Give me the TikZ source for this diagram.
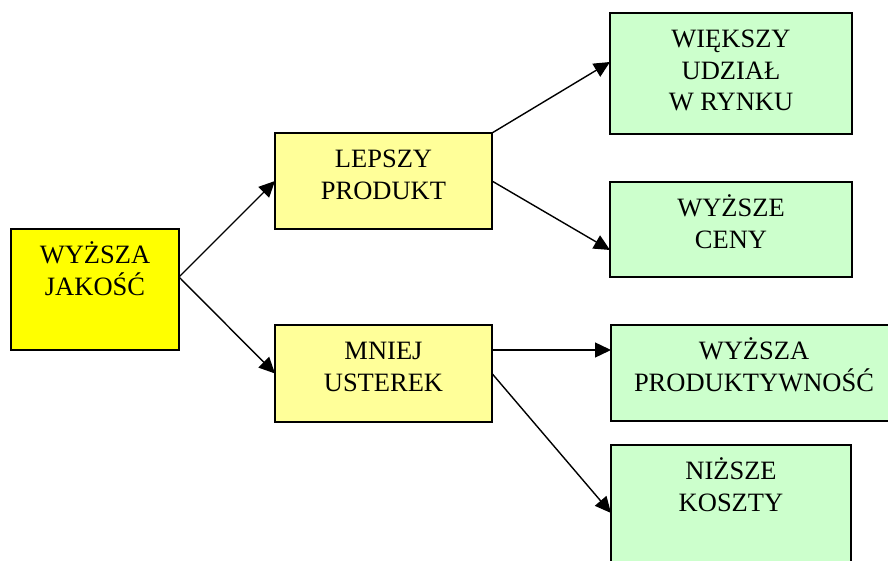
\documentclass[tikz,border=0pt]{standalone}
\usepackage{fontspec}
\setmainfont{Liberation Serif}
\usetikzlibrary{arrows.meta}
\definecolor{lightyel}{HTML}{FFFF99}
\definecolor{lightgreen}{HTML}{CCFFCC}
\definecolor{mainyel}{HTML}{FFFF00}
\newcommand{\boxtext}[3]{\parbox[c][#2pt][t]{#1pt}{\centering\fontsize{26.5}{31.7}\selectfont\rule{0pt}{34.5pt}#3}}
\tikzset{
  boxbase/.style={draw=black, line width=1.6pt, inner sep=0pt, outer sep=0pt},
  mainbox/.style={boxbase, fill=mainyel},
  midbox/.style={boxbase, fill=lightyel},
  endbox/.style={boxbase, fill=lightgreen},
  conn/.style={line width=1.4pt, -{Triangle[length=16pt,width=15pt]}}
}
\begin{document}
\begin{tikzpicture}[x=1pt,y=-1pt]
\useasboundingbox (0,0) rectangle (888,561);
\fill[white] (0,0) rectangle (888,561);
\clip (0,0) rectangle (888,561);
\node[mainbox] (a) at (95,289.5) {\boxtext{168}{121}{WYŻSZA\\JAKOŚĆ}};
\node[midbox] (b) at (383.5,181) {\boxtext{217}{96}{LEPSZY\\PRODUKT}};
\node[midbox] (c) at (383.5,373.5) {\boxtext{217}{97}{MNIEJ\\USTEREK}};
\node[endbox] (d) at (731,73.5) {\boxtext{242}{121}{WIĘKSZY\\UDZIAŁ\\W RYNKU}};
\node[endbox] (e) at (731,229.5) {\boxtext{242}{95}{WYŻSZE\\CENY}};
\node[endbox] (f) at (754,373) {\boxtext{286}{96}{WYŻSZA\\PRODUKTYWNOŚĆ}};
\node[endbox] (g) at (731,513) {\boxtext{240}{136}{NIŻSZE\\KOSZTY}};
\coordinate (fin) at ([yshift=23pt]f.west);
\draw[conn] ([yshift=12.5pt]a.east) -- (b.west);
\draw[conn] ([yshift=12.5pt]a.east) -- (c.west);
\draw[conn] (b.north east) -- ([yshift=11.5pt]d.west);
\draw[conn] (b.east) -- ([yshift=-20.5pt]e.west);
\draw[conn] (c.east |- fin) -- (fin);
\draw[conn] (c.east) -- (g.west);
\end{tikzpicture}
\end{document}
